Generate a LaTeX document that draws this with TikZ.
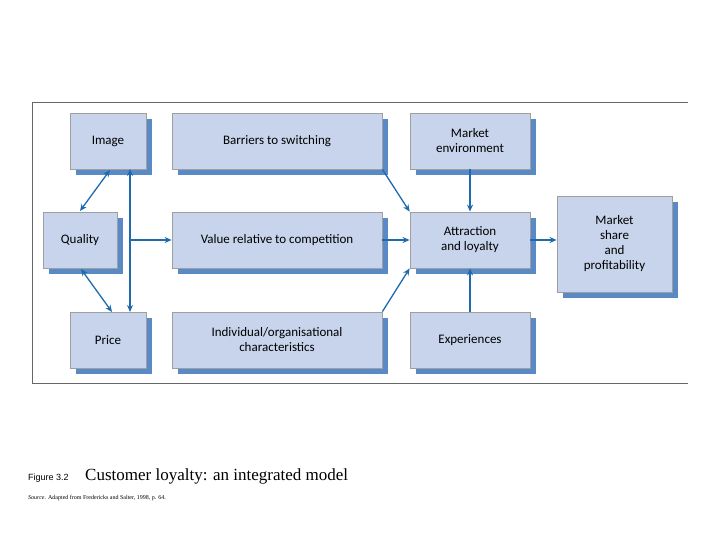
\documentclass[tikz,border=0pt]{standalone}
\usepackage{fontspec}
\setmainfont{Carlito}
\newfontfamily\tnr{Liberation Serif}
\newfontfamily\lsans{Liberation Sans}
\usetikzlibrary{arrows.meta}
\definecolor{boxfill}{HTML}{C7D4EC}
\definecolor{boxshadow}{HTML}{5A8AC6}
\definecolor{arrowc}{HTML}{1E6AAE}
\tikzset{
 box/.style={draw=gray!75, fill=boxfill, line width=0.8pt, align=center, font=\fontsize{13}{15}\selectfont, inner sep=0pt},
 conn/.style={draw=arrowc, line width=1.3pt, -{Stealth[length=7pt,width=6pt]}},
 both/.style={conn, {Stealth[length=7pt,width=6pt]}-{Stealth[length=7pt,width=6pt]}}
}
\newcommand{\shbox}[6]{% name, x1,y1,x2,y2, text
 \fill[boxshadow] (#2+6,#3+6) rectangle (#4+6,#5+6);
 \node[box, minimum width={(#4-#2)*1pt}, minimum height={(#5-#3)*1pt}] (#1) at ({(#2+#4)/2},{(#3+#5)/2}) {#6};
}
\begin{document}
\begin{tikzpicture}[x=1pt,y=-1pt]
\useasboundingbox (0,0) rectangle (720,540);
\draw[gray!80!black, line width=0.8pt] (688,102) -- (32,102) -- (32,383) -- (688,383);
\shbox{img}{70}{113}{146}{169}{Image}
\shbox{bar}{172}{113}{382}{169}{Barriers to switching}
\shbox{env}{410}{113}{530}{169}{Market\\environment}
\shbox{qual}{43}{212}{117}{268}{Quality}
\shbox{val}{172}{212}{382}{268}{Value relative to competition}
\shbox{att}{410}{212}{530}{268}{Attraction\\and loyalty}
\shbox{ms}{557}{196}{672}{292}{Market\\share\\and\\profitability}
\shbox{pri}{70}{312}{146}{368}{Price}
\shbox{ind}{172}{312}{382}{368}{Individual/organisational\\characteristics}
\shbox{exp}{410}{312}{530}{368}{Experiences}
\coordinate (vt) at (130,169);
\coordinate (vb) at (130,312);
\coordinate (vm) at (130,240);
\draw[both] (vt) -- (vb);
\draw[conn] (vm) -- (val.west);
\draw[both] (110,170) -- (80,211);
\draw[both] (81,269) -- (112,312);
\draw[conn] (bar.south east) -- (att.north west);
\draw[conn] (ind.north east) -- (att.south west);
\draw[conn] (val.east) -- (att.west);
\draw[conn] (env.south) -- (att.north);
\draw[conn] (exp.north) -- (att.south);
\draw[conn] (att.east) -- (att.east -| ms.west);
\node[anchor=base west, inner sep=0pt, font=\lsans\fontsize{9}{10}\selectfont] (fig) at (28,480) {Figure 3.2};
\node[anchor=base west, inner sep=0pt, font=\tnr\fontsize{17}{19}\selectfont] (cap) at (85,480) {Customer loyalty: an integrated model};
\node[anchor=base west, inner sep=0pt, font=\tnr\fontsize{6}{7}\selectfont] (src) at (28,499) {\textit{Source}. Adapted from Fredericks and Salter, 1998, p. 64.};
\end{tikzpicture}
\end{document}
